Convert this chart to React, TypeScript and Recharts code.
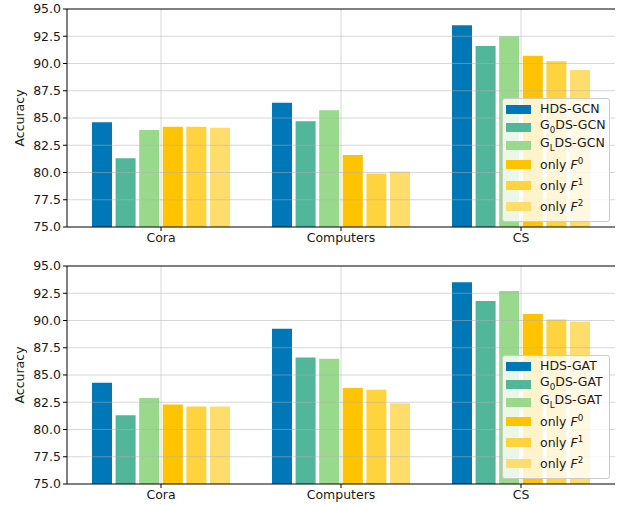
import React from "react"
import { Bar, BarChart, Legend, ReferenceLine, XAxis, YAxis } from "recharts"

const categories = ["Cora", "Computers", "CS"]
const yTicks = [75, 77.5, 80, 82.5, 85, 87.5, 90, 92.5, 95]

// GCN panel
const hdsGcn = [84.6, 86.4, 93.5]
const g0Gcn = [81.3, 84.7, 91.6]
const glGcn = [83.9, 85.7, 92.5]
const f0Gcn = [84.2, 81.6, 90.7]
const f1Gcn = [84.2, 79.9, 90.2]
const f2Gcn = [84.1, 80.1, 89.4]

// GAT panel
const hdsGat = [84.3, 89.25, 93.5]
const g0Gat = [81.3, 86.6, 91.8]
const glGat = [82.9, 86.5, 92.7]
const f0Gat = [82.3, 83.8, 90.6]
const f1Gat = [82.1, 83.65, 90.1]
const f2Gat = [82.1, 82.4, 89.9]

const colors = ["#0077b6", "#52b69a", "#99d98c", "#ffc300", "#ffd33d", "#ffdd6d"]
const keys = ["hds", "g0", "gl", "f0", "f1", "f2"]

const FONT = "'DejaVu Sans', sans-serif"
const TEXT = "#1a1a1a"

const makeRows = (series: number[][]) =>
  categories.map((name, i) => {
    const row: Record<string, string | number> = { name }
    keys.forEach((k, j) => (row[k] = series[j][i]))
    return row
  })

const legendLabels = (model: string) => [
  <>HDS-{model}</>,
  <>G<sub style={{ fontSize: "70%" }}>0</sub>DS-{model}</>,
  <>G<sub style={{ fontSize: "70%" }}>L</sub>DS-{model}</>,
  <>only <i>F</i><sup style={{ fontSize: "70%" }}>0</sup></>,
  <>only <i>F</i><sup style={{ fontSize: "70%" }}>1</sup></>,
  <>only <i>F</i><sup style={{ fontSize: "70%" }}>2</sup></>,
]

function LegendBox({ model }: { model: string }) {
  const labels = legendLabels(model)
  return (
    <div
      style={{
        boxSizing: "border-box",
        background: "rgba(255,255,255,0.8)",
        border: "1px solid #cccccc",
        borderRadius: 3,
        padding: "1px 2px 4px 3px",
        fontFamily: FONT,
        fontSize: 12.5,
        color: TEXT,
        width: 108,
        whiteSpace: "nowrap",
      }}
    >
      {labels.map((lab, i) => (
        <div key={i} style={{ display: "flex", alignItems: "center", height: i < 3 ? 18 : 21, lineHeight: 1 }}>
          <span style={{ display: "inline-block", flex: "0 0 25px", height: 9, background: colors[i], marginRight: 9 }} />
          <span>{lab}</span>
        </div>
      ))}
    </div>
  )
}

function Panel({ series, model, height, bottom }: { series: number[][]; model: string; height: number; bottom: number }) {
  const data = makeRows(series)
  return (
    <BarChart
      width={618}
      height={height}
      data={data}
      margin={{ top: 9, right: 3, left: 0, bottom }}
      barSize={20}
      barGap={3.6}
    >
      <XAxis
        dataKey="name"
        padding={{ left: 4, right: 4 }}
        height={22}
        tickSize={4}
        tick={{ fontFamily: FONT, fontSize: 12.5, fill: TEXT }}
        stroke="#000"
        tickLine={{ stroke: "#000" }}
      />
      <YAxis
        domain={[75, 95]}
        ticks={yTicks}
        width={67}
        tickSize={4}
        interval={0}
        allowDataOverflow
        tickFormatter={(v: number) => v.toFixed(1)}
        tick={{ fontFamily: FONT, fontSize: 12.5, fill: TEXT }}
        stroke="#000"
        label={{
          value: "Accuracy",
          angle: -90,
          position: "insideLeft",
          offset: 20,
          style: { textAnchor: "middle", fontFamily: FONT, fontSize: 12.5, fill: TEXT },
        }}
      />
      <YAxis yAxisId="right" orientation="right" width={0} tick={false} tickLine={false} stroke="#000" domain={[75, 95]} />
      {keys.map((k, i) => (
        <Bar key={k} dataKey={k} fill={colors[i]} isAnimationActive={false} />
      ))}
      {yTicks.slice(1, -1).map((t) => (
        <ReferenceLine key={"h" + t} y={t} stroke="#b0b0b0" strokeOpacity={0.5} strokeWidth={1} />
      ))}
      {categories.map((c) => (
        <ReferenceLine key={"v" + c} x={c} stroke="#b0b0b0" strokeOpacity={0.5} strokeWidth={1} />
      ))}
      <ReferenceLine y={95} stroke="#000" strokeWidth={1} />
      <Legend
        layout="vertical"
        verticalAlign="middle"
        align="center"
        wrapperStyle={{ top: 98, left: 502, width: "auto", height: "auto" }}
        content={() => <LegendBox model={model} />}
      />
    </BarChart>
  )
}

export default function App() {
  return (
    <div style={{ position: "absolute", left: 0, top: 0, width: 618, height: 506, background: "#fff" }}>
      <Panel series={[hdsGcn, g0Gcn, glGcn, f0Gcn, f1Gcn, f2Gcn]} model="GCN" height={257} bottom={8} />
      <Panel series={[hdsGat, g0Gat, glGat, f0Gat, f1Gat, f2Gat]} model="GAT" height={249} bottom={0} />
    </div>
  )
}
